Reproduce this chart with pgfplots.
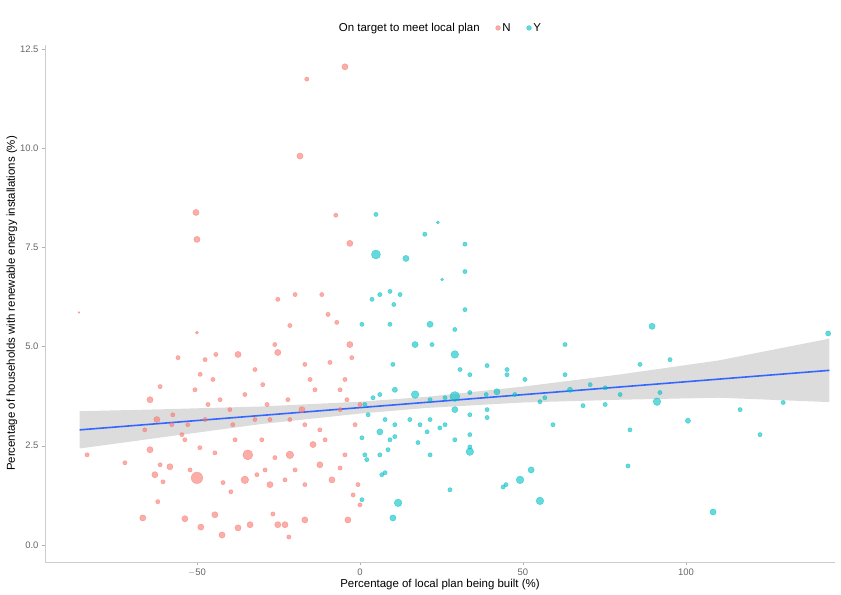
\documentclass[border=0pt]{standalone}
\usepackage{pgfplots}
\pgfplotsset{compat=1.18}
\usepackage{fontspec}
\setmainfont{Liberation Sans}
\definecolor{cN}{HTML}{F8766D}
\definecolor{cY}{HTML}{00BFC4}
\definecolor{cL}{HTML}{3366FF}
\begin{document}
\begin{tikzpicture}[x=1bp,y=1bp]
\path[use as bounding box] (0,0) rectangle (841,595);
\begin{axis}[at={(45bp,33bp)}, anchor=south west, scale only axis, width=790bp, height=517bp,
 xmin=-96.6, xmax=145.7, ymin=-0.43, ymax=12.6,
 axis lines=left, axis line style={gray!40,-}, tick style={gray!60},
 tick align=outside, major tick length=3pt,
 xtick={-50,0,50,100}, ytick={0,2.5,5,7.5,10,12.5},
 xticklabels={$-$50,0,50,100},
 yticklabel style={/pgf/number format/.cd,fixed,fixed zerofill,precision=1},
 /pgf/number format/assume math mode=true,
 ticklabel style={font=\fontsize{9.5}{11}\selectfont, text=gray!80!black},
 xlabel={Percentage of local plan being built (\%)},
 ylabel={Percentage of households with renewable energy installations (\%)},
 label style={font=\fontsize{11.5}{13}\selectfont},
 xlabel style={yshift=4pt}, ylabel style={yshift=-4pt},
 legend style={at={(0.5,1.0)}, anchor=south, draw=none, font=\fontsize{11.5}{13}\selectfont, legend columns=-1, /tikz/every even column/.append style={column sep=14pt}, yshift=8pt},
 legend cell align=left,
]
\addlegendimage{empty legend}\addlegendentry{On target to meet local plan}
\addlegendimage{only marks, mark=*, mark size=2.4pt, draw=cN, fill=cN, opacity=0.6}\addlegendentry{N}
\addlegendimage{only marks, mark=*, mark size=2.4pt, draw=cY, fill=cY, opacity=0.6}\addlegendentry{Y}
\addplot[scatter, only marks, mark=*, forget plot, scatter/use mapped color={draw=cN,fill=cN}, opacity=0.6,
 visualization depends on={\thisrow{s}\as\ms}, scatter/@pre marker code/.append style={/tikz/mark size=1.2*\ms pt}]
 table[x=x,y=y,meta=s] {
x y s
-4.6 12.05 2.6
-16.3 11.74 1.8
-18.4 9.80 2.6
-50.3 8.38 2.6
-50 7.70 2.6
-7.4 8.31 1.8
-3.1 7.60 2.6
-86.2 5.86 0.8
-83.7 2.27 1.8
-72.1 2.07 1.8
-66.6 0.68 2.6
-61.3 3.99 1.8
-55.8 4.72 1.8
-64.4 3.66 2.6
-62.3 3.16 2.6
-57.4 3.28 1.8
-66 2.90 1.8
-64.4 2.40 2.6
-62.9 1.77 2.6
-61.3 2.02 1.8
-58.3 1.97 2.6
-60.4 1.59 1.8
-62 1.09 1.8
-53.7 0.66 2.6
-50 1.69 4.8
-48.8 0.45 2.6
-44.5 0.76 2.6
-42.3 0.25 2.6
-37.4 0.43 2.6
-33.7 0.51 2.6
-34.4 2.27 4.2
-35.3 1.64 3.2
-39.6 1.34 1.8
-38.3 2.65 1.8
-42.9 3.66 1.8
-45.1 4.17 1.8
-44.2 4.80 1.8
-37.4 4.80 2.6
-32.2 4.42 1.8
-29.8 4.04 1.8
-26.1 5.05 1.8
-25.2 6.19 1.8
-21.5 5.53 1.8
-19.9 6.31 1.8
-11.7 6.31 1.8
-9.8 5.81 1.8
-7.1 5.61 1.8
-3.1 5.05 2.6
-2.5 4.72 1.8
-9.2 4.60 1.8
-16.9 4.55 1.8
-25.2 4.85 2.6
-28.5 3.54 1.8
-27.6 3.16 1.8
-21.5 3.16 1.8
-17.8 3.41 2.6
-16.9 3.03 1.8
-12.3 2.90 1.8
-10.7 2.65 1.8
-21.5 2.27 3.2
-26.1 2.20 1.8
-29.1 1.89 1.8
-27.6 1.52 2.6
-23 1.64 1.8
-19.9 1.89 1.8
-16.9 1.52 1.8
-14.4 2.53 2.6
-12.3 2.02 2.6
-8.6 1.64 2.6
-4.6 2.27 1.8
-6.1 1.94 1.8
-2.1 1.26 1.8
-3.7 0.63 2.6
-16.9 0.63 2.6
-23 0.51 2.6
-21.8 0.20 1.8
-25.2 0.51 2.6
-26.7 0.78 1.8
-31.6 1.77 1.8
-42 1.57 1.8
-44.5 2.32 1.8
-49.1 2.45 1.8
-52.1 1.89 1.8
-53.7 2.65 1.8
-52.8 3.03 1.8
-47.5 3.16 1.8
-46.6 3.54 1.8
-39.9 3.41 1.8
-39 3.03 1.8
-35.3 3.79 1.8
-32.2 3.16 1.8
-30.1 2.65 1.8
-6.1 3.41 1.8
-4 3.66 1.8
-1.5 3.03 1.8
-6.1 3.91 1.8
-13.8 3.91 1.8
-15.3 4.17 1.8
-22.1 3.66 1.8
-4.6 4.17 1.8
-0.6 1.52 1.8
0 1.01 1.8
0 3.54 1.8
-54.6 2.78 1.8
-57.7 3.03 1.8
-49 4.3 1.8
-47.5 4.67 1.8
-50 5.35 1.3
-50.6 3.91 1.8
};
\addplot[scatter, only marks, mark=*, forget plot, scatter/use mapped color={draw=cY,fill=cY}, opacity=0.6,
 visualization depends on={\thisrow{s}\as\ms}, scatter/@pre marker code/.append style={/tikz/mark size=1.2*\ms pt}]
 table[x=x,y=y,meta=s] {
x y s
4.9 7.32 3.8
4.9 8.33 1.8
23.9 8.13 1.3
19.9 7.83 1.8
14.1 7.22 2.6
32.2 7.58 1.8
32.2 6.89 1.8
25.2 6.69 1.3
9.2 6.39 1.8
6.1 6.31 1.8
12.3 6.31 1.8
3.7 6.19 1.8
10.4 6.06 1.8
0.6 5.56 1.8
9.2 5.56 1.8
21.5 5.56 2.6
29.1 5.43 1.8
32.2 5.93 1.8
22.1 5.05 1.8
16.9 5.05 2.6
10.1 4.55 1.8
29.1 4.80 3.2
30.7 4.42 1.8
33.7 4.29 1.8
39 4.52 1.8
45.1 4.42 1.8
45.1 4.29 1.8
62.9 5.05 1.8
89.6 5.51 2.6
95.1 4.67 1.8
85.9 4.55 1.8
62.9 4.29 1.8
64.4 3.91 2.2
70.6 4.04 1.8
75.2 3.96 1.8
79.8 3.79 1.8
92 3.84 1.8
91.1 3.61 3.2
75.2 3.54 1.8
68.4 3.51 1.8
56.7 3.71 1.8
55.2 3.61 1.8
50.6 4.17 1.8
47.5 3.79 1.8
42 3.86 2.6
38.7 3.79 1.8
33.7 3.84 1.8
29.1 3.74 4.2
26.1 3.71 1.8
21.5 3.66 1.8
16.9 3.79 3.2
10.7 3.91 2.2
6.1 3.79 1.8
4 3.71 1.8
1.5 3.54 1.8
2.5 3.28 1.8
7.7 3.16 1.8
10.7 3.03 1.8
15.3 3.16 1.8
18.4 3.03 1.8
21.5 3.16 1.8
26.1 3.03 1.8
29.1 3.41 2.6
33.7 3.28 1.8
39 3.41 1.8
39 3.21 1.8
33.7 2.78 1.8
33.7 2.35 3.2
33.7 2.47 1.8
29.1 2.65 1.8
24.5 2.95 1.8
20.6 2.85 1.8
21.5 2.27 1.8
17.8 2.58 1.8
10.7 2.73 1.8
6.1 2.85 2.6
9.2 2.65 1.8
8.6 2.40 1.8
0.6 2.70 1.8
1.5 2.27 1.8
2.1 2.15 1.8
6.7 1.77 1.8
7.7 1.82 1.8
0.6 1.14 1.8
11.7 1.06 3.2
10.1 0.68 2.6
27.6 1.39 1.8
43.9 1.46 1.8
44.8 1.52 1.8
49.1 1.64 3.2
52.5 1.89 2.6
55.2 1.11 3.2
82.2 1.99 1.8
82.8 2.90 1.8
100.6 3.13 2.2
116.6 3.41 1.8
129.8 3.59 1.8
122.7 2.78 1.8
108.3 0.83 2.6
59.2 3.03 1.8
143.6 5.33 2.2
6.1 2.27 1.8
};
\addplot[fill=gray!60, fill opacity=0.45, draw=none, forget plot] coordinates {
(-86,3.37) (-60,3.42) (-30,3.49) (0,3.61) (20,3.73) (50,3.99) (80,4.30) (110,4.65) (144,5.20)
(144,3.60) (110,3.71) (80,3.66) (50,3.59) (20,3.45) (0,3.31) (-30,3.05) (-60,2.72) (-86,2.43)} -- cycle;
\addplot[cL, line width=1.6pt, forget plot] coordinates {(-86,2.90) (144,4.40)};
\end{axis}
\end{tikzpicture}
\end{document}
